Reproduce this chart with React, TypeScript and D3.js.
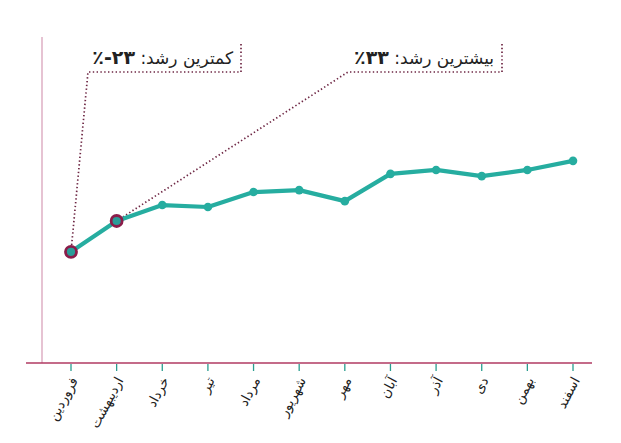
import * as d3 from "d3";
import { useEffect, useRef } from "react";

// ماه‌ها و مقدار رشد (واحد دلخواه، خوانده شده از تصویر)
const months = [
  "فروردین",
  "اردیبهشت",
  "خرداد",
  "تیر",
  "مرداد",
  "شهریور",
  "مهر",
  "آبان",
  "آذر",
  "دی",
  "بهمن",
  "اسفند",
];
const values = [34.2, 43.7, 48.6, 48.0, 52.6, 53.2, 49.8, 58.2, 59.4, 57.5, 59.4, 62.2];

// annotation: label, target month index
const notes = [
  { text: "کمترین رشد: ", num: "۲۳-٪", idx: 0 },
  { text: "بیشترین رشد: ", num: "۳۳٪", idx: 1 },
];

const W = 621;
const H = 443;

const App = () => {
  const svgRef = useRef<SVGSVGElement>(null);

  useEffect(() => {
    const svg = d3.select(svgRef.current);
    svg.selectAll("*").remove();

    const x = d3.scalePoint<string>().domain(months).range([71, 573]);
    const y = d3.scaleLinear().domain([0, 100]).range([363, 38]);

    // axes
    svg
      .append("line")
      .attr("x1", 42)
      .attr("x2", 42)
      .attr("y1", 37)
      .attr("y2", 363)
      .attr("stroke", "#d9a3bb")
      .attr("stroke-width", 1.3);

    svg
      .append("line")
      .attr("x1", 26)
      .attr("x2", 592)
      .attr("y1", 363)
      .attr("y2", 363)
      .attr("stroke", "#b03a62")
      .attr("stroke-width", 1.5);

    const xAxis = svg.append("g").attr("transform", "translate(0,363)");
    xAxis
      .selectAll("line")
      .data(months)
      .join("line")
      .attr("x1", (d) => x(d)!)
      .attr("x2", (d) => x(d)!)
      .attr("y1", 1)
      .attr("y2", 8)
      .attr("stroke", "#2a9d8f")
      .attr("stroke-width", 1.3);
    xAxis
      .selectAll("text")
      .data(months)
      .join("text")
      .attr("transform", (d) => `translate(${x(d)! + 3},${15}) rotate(-62)`)
      .attr("text-anchor", "end")
      .attr("dy", "0.35em")
      .attr("font-size", 13.5)
      .attr("font-family", "'DejaVu Sans', sans-serif")
      .attr("fill", "#222")
      .text((d) => d);

    // annotations
    const boxes = [
      { left: 88, right: 241 },
      { left: 348, right: 502 },
    ];
    notes.forEach((n, i) => {
      const b = boxes[i];
      const g = svg.append("g");
      const path = d3.path();
      path.moveTo(b.right, 44);
      path.lineTo(b.right, 72);
      path.lineTo(b.left, 72);
      path.lineTo(x(months[n.idx])!, y(values[n.idx]));
      g.append("path")
        .attr("d", path.toString())
        .attr("stroke", "#6e2744")
        .attr("stroke-width", 1.7)
        .attr("stroke-dasharray", "1.4 2.4")
        .attr("fill", "none");

      const t = g
        .append("text")
        .attr("x", b.right - 8)
        .attr("y", 64)
        .attr("direction", "rtl")
        .attr("text-anchor", "start")
        .attr("font-size", 17)
        .attr("font-family", "'DejaVu Sans', sans-serif")
        .attr("fill", "#222");
      t.append("tspan").text(n.text);
      t.append("tspan").attr("font-weight", "bold").attr("font-size", 19).text(n.num);
    });

    // line
    const line = d3
      .line<number>()
      .x((_, i) => x(months[i])!)
      .y((d) => y(d));
    svg
      .append("path")
      .datum(values)
      .attr("d", line)
      .attr("fill", "none")
      .attr("stroke", "#26ada0")
      .attr("stroke-width", 4.2)
      .attr("stroke-linejoin", "round");

    svg
      .selectAll("circle.pt")
      .data(values)
      .join("circle")
      .attr("class", "pt")
      .attr("cx", (_, i) => x(months[i])!)
      .attr("cy", (d) => y(d))
      .attr("r", 4.3)
      .attr("fill", "#26ada0");

    svg
      .selectAll("circle.hl")
      .data(notes)
      .join("circle")
      .attr("class", "hl")
      .attr("cx", (d) => x(months[d.idx])!)
      .attr("cy", (d) => y(values[d.idx]))
      .attr("r", 5.5)
      .attr("fill", "#2a9d99")
      .attr("stroke", "#8b1d4a")
      .attr("stroke-width", 2.8);
  }, []);

  return (
    <svg
      ref={svgRef}
      width={W}
      height={H}
      style={{ position: "absolute", left: 0, top: 0, background: "#fff" }}
    />
  );
};

export default App;
